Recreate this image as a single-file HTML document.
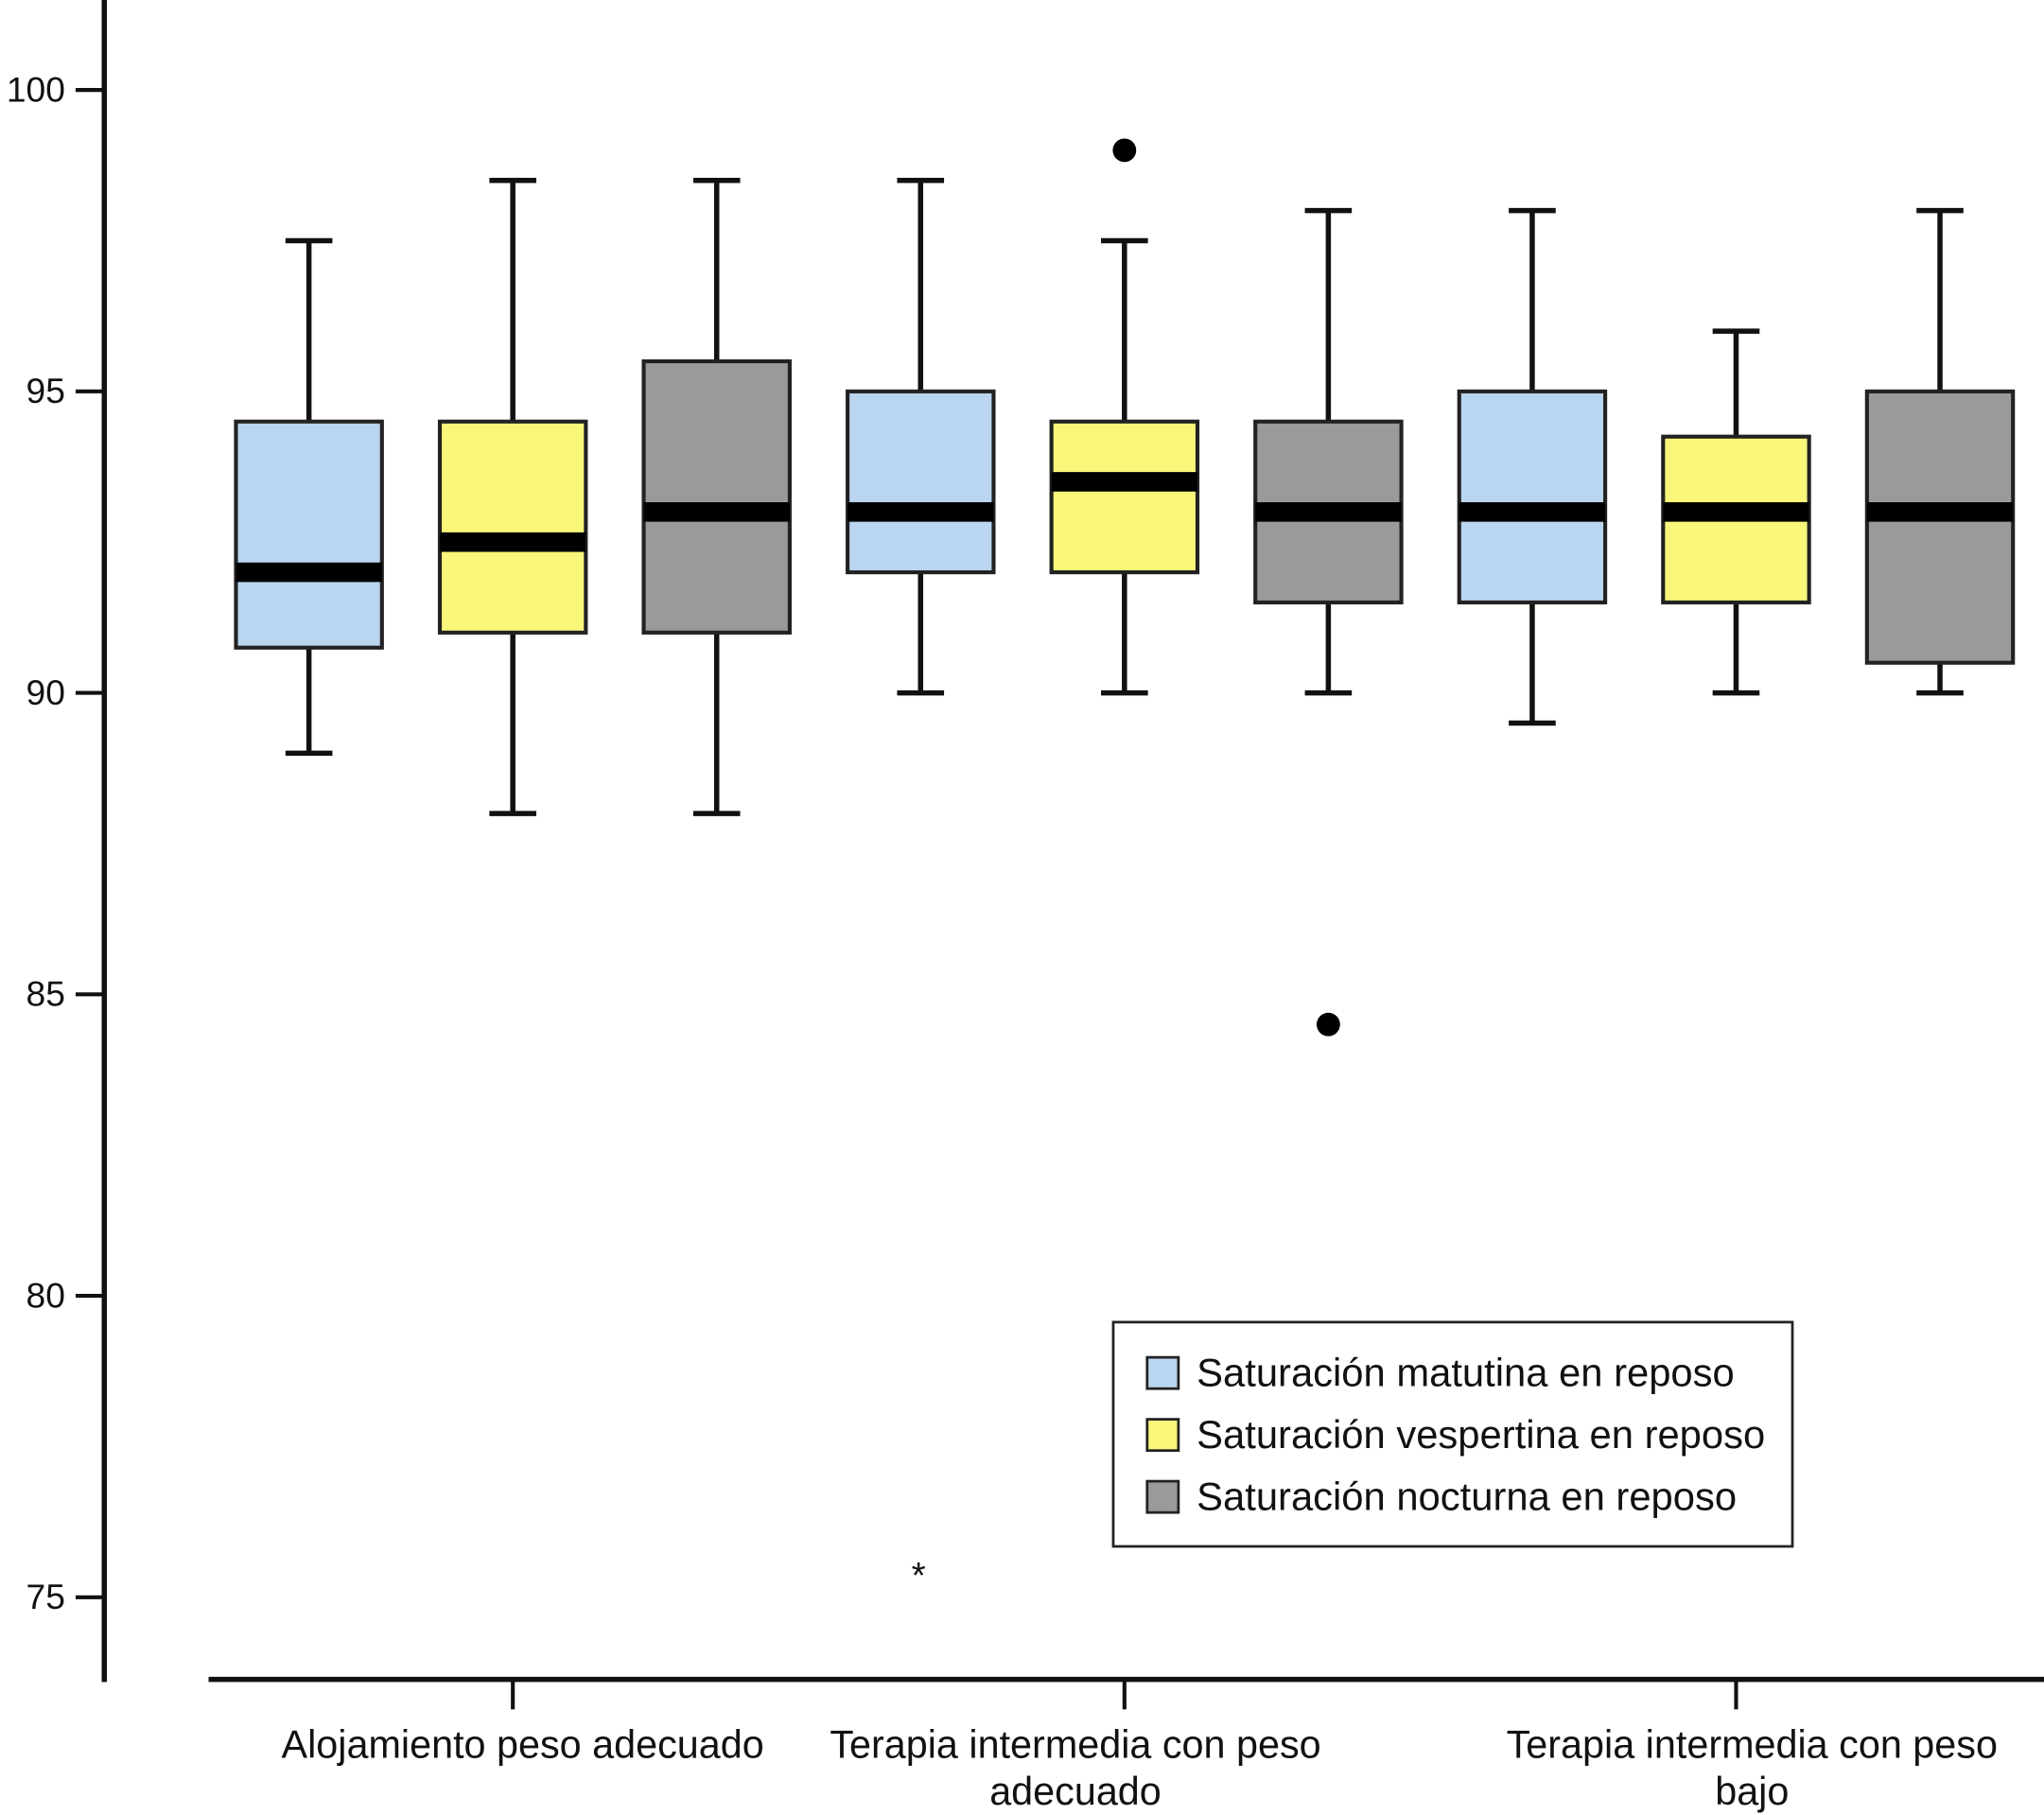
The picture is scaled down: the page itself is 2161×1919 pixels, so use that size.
<!DOCTYPE html>
<html><head><meta charset="utf-8"><style>html,body{margin:0;padding:0;background:#fff}svg{display:block}text{font-family:"Liberation Sans",sans-serif;fill:#111}</style></head>
<body>
<svg id="chart" width="2161" height="1919" viewBox="0 0 1568 1392" preserveAspectRatio="none" xmlns="http://www.w3.org/2000/svg">
<g id="axes"></g>
<g id="boxes"></g>
<g id="legend">
<rect x="854" y="1014" width="521" height="172" fill="#fff" stroke="#222" stroke-width="2"/>
</g>
</svg>
<script>
const yTicks=[75,80,85,90,95,100];
const groupLabels=[["Alojamiento peso adecuado"],["Terapia intermedia con peso","adecuado"],["Terapia intermedia con peso","bajo"]];
const seriesNames=["Saturación matutina en reposo","Saturación vespertina en reposo","Saturación nocturna en reposo"];
const seriesColors=["#b9d5f0","#f8f77a","#9a9a9a"];
const whiskerLow=[89,88,88,90,90,90,89.5,90,90];
const q1=[90.75,91,91,92,92,91.5,91.5,91.5,90.5];
const medians=[92,92.5,93,93,93.5,93,93,93,93];
const q3=[94.5,94.5,95.5,95,94.5,94.5,95,94.25,95];
const whiskerHigh=[97.5,98.5,98.5,98.5,97.5,98,98,96,98];
const outlierBox=[4,5];
const outlierVal=[99,84.5];
const extremeX=[2.99];
const extremeVal=[75.5];

const NS="http://www.w3.org/2000/svg";
const y=v=>69+(100-v)*(1225-69)/25;
const bx=i=>237+i*156.4;
const labelCx=[401,825,1344];
function mk(p,tag,at){const e=document.createElementNS(NS,tag);for(const k in at)e.setAttribute(k,at[k]);p.appendChild(e);return e;}
const ax=document.getElementById('axes');
let e=mk(ax,'line',{x1:80,y1:0,x2:80,y2:1290,stroke:'#111','stroke-width':4});

e=mk(ax,'line',{x1:160,y1:1288,x2:1568,y2:1288,stroke:'#111','stroke-width':4});

yTicks.forEach(t=>{
 let l=mk(ax,'line',{x1:58,y1:y(t),x2:80,y2:y(t),stroke:'#111','stroke-width':3});
 
 let tx=mk(ax,'text',{x:50,y:y(t)+9,'text-anchor':'end','font-size':27});tx.textContent=t;
 
});
groupLabels.forEach((g,i)=>{
 const cx=bx(i*3+1);
 let l=mk(ax,'line',{x1:cx,y1:1288,x2:cx,y2:1311,stroke:'#111','stroke-width':3});
 
 g.forEach((s,j)=>{let tx=mk(ax,'text',{x:labelCx[i],y:1348+j*36,'text-anchor':'middle','font-size':30});
  tx.textContent=s;});
});
const bg=document.getElementById('boxes');
medians.forEach((m,i)=>{
 const cx=bx(i),w=112,c=seriesColors[i%3];
 const g=mk(bg,'g',{});
 mk(g,'line',{x1:cx,y1:y(whiskerHigh[i]),x2:cx,y2:y(q3[i]),stroke:'#111','stroke-width':4});
 mk(g,'line',{x1:cx,y1:y(whiskerLow[i]),x2:cx,y2:y(q1[i]),stroke:'#111','stroke-width':4});
 mk(g,'line',{x1:cx-18,y1:y(whiskerHigh[i]),x2:cx+18,y2:y(whiskerHigh[i]),stroke:'#111','stroke-width':4});
 mk(g,'line',{x1:cx-18,y1:y(whiskerLow[i]),x2:cx+18,y2:y(whiskerLow[i]),stroke:'#111','stroke-width':4});
 mk(g,'rect',{x:cx-w/2,y:y(q3[i]),width:w,height:y(q1[i])-y(q3[i]),fill:c,stroke:'#222','stroke-width':3});
 mk(g,'line',{x1:cx-w/2,y1:y(m),x2:cx+w/2,y2:y(m),stroke:'#000','stroke-width':15});
});
outlierBox.forEach((b,i)=>{let c=mk(bg,'circle',{cx:bx(b),cy:y(outlierVal[i]),r:9,fill:'#000'});
 });
extremeX.forEach((b,i)=>{let t=mk(bg,'text',{x:bx(b),y:y(extremeVal[i])+16,'text-anchor':'middle','font-size':28});t.textContent='*';
 });
const lg=document.getElementById('legend');
seriesNames.forEach((s,i)=>{const yy=1053+i*47.5;
 let r=mk(lg,'rect',{x:880,y:yy-12,width:24,height:24,fill:seriesColors[i],stroke:'#222','stroke-width':2});
 
 let t=mk(lg,'text',{x:918,y:yy+10,'font-size':30.3});t.textContent=s;
 });
</script>
</body></html>
